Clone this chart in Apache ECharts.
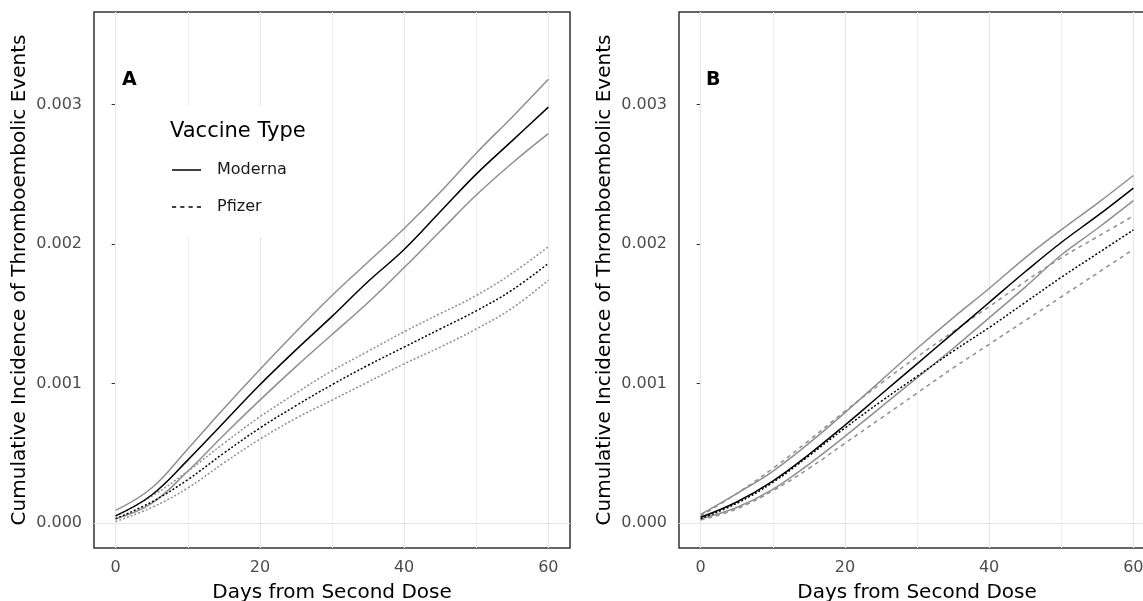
<!DOCTYPE html>
<html>
<head>
<meta charset="utf-8">
<script src="https://cdn.jsdelivr.net/npm/echarts@6/dist/echarts.min.js"></script>
<style>
  html, body { margin: 0; padding: 0; background: #fff; }
  #chart { width: 1143px; height: 601px; }
</style>
</head>
<body>
<div id="chart"></div>
<script>
// days from second dose
const days = [0, 5, 10, 15, 20, 25, 30, 35, 40, 45, 50, 55, 60];

// panel A
const modernaA   = [0.00005, 0.00020, 0.00045, 0.00072, 0.00099, 0.00124, 0.00148, 0.00173, 0.00196, 0.00223, 0.00250, 0.00274, 0.00298];
const modernaAHi = [0.00009, 0.00025, 0.00053, 0.00082, 0.00110, 0.00137, 0.00163, 0.00187, 0.00211, 0.00237, 0.00265, 0.00291, 0.00318];
const modernaALo = [0.00003, 0.00014, 0.00037, 0.00063, 0.00088, 0.00112, 0.00135, 0.00158, 0.00183, 0.00209, 0.00235, 0.00258, 0.00279];
const pfizerA    = [0.00003, 0.00015, 0.00031, 0.00050, 0.00068, 0.00084, 0.00099, 0.00113, 0.00126, 0.00139, 0.00152, 0.00167, 0.00186];
const pfizerAHi  = [0.00005, 0.00019, 0.00037, 0.00057, 0.00076, 0.00093, 0.00109, 0.00123, 0.00137, 0.00150, 0.00163, 0.00179, 0.00198];
const pfizerALo  = [0.00001, 0.00011, 0.00025, 0.00043, 0.00060, 0.00075, 0.00088, 0.00101, 0.00114, 0.00126, 0.00139, 0.00154, 0.00174];

// panel B
const modernaB   = [0.00004, 0.00015, 0.00030, 0.00049, 0.00070, 0.00092, 0.00114, 0.00136, 0.00158, 0.00180, 0.00201, 0.00220, 0.00240];
const modernaBHi = [0.00006, 0.00021, 0.00037, 0.00057, 0.00079, 0.00102, 0.00125, 0.00147, 0.00168, 0.00190, 0.00210, 0.00229, 0.00249];
const modernaBLo = [0.00003, 0.00011, 0.00024, 0.00042, 0.00062, 0.00083, 0.00104, 0.00125, 0.00147, 0.00169, 0.00192, 0.00211, 0.00231];
const pfizerB    = [0.00003, 0.00014, 0.00029, 0.00048, 0.00068, 0.00087, 0.00105, 0.00123, 0.00140, 0.00158, 0.00176, 0.00193, 0.00210];
const pfizerBHi  = [0.00005, 0.00021, 0.00039, 0.00059, 0.00080, 0.00100, 0.00119, 0.00137, 0.00155, 0.00173, 0.00190, 0.00205, 0.00220];
const pfizerBLo  = [0.00002, 0.00010, 0.00023, 0.00039, 0.00057, 0.00075, 0.00093, 0.00111, 0.00128, 0.00145, 0.00162, 0.00179, 0.00196];

// axis breaks
const xMajor = [0, 20, 40, 60];
const xMinor = [10, 30, 50];
const yMajor = [0, 0.001, 0.002, 0.003];
const yMinor = [0.0005, 0.0015, 0.0025, 0.0035];

const FONT = 'DejaVu Sans';
const GREY = '#8f8f8f';

function pairs(arr) {
  return days.map((d, i) => [d, arr[i]]);
}

function curve(name, idx, arr, color, type) {
  return {
    name: name,
    type: 'line',
    xAxisIndex: idx,
    yAxisIndex: idx,
    data: pairs(arr),
    symbol: 'none',
    smooth: 0.4,
    silent: true,
    z: 3,
    lineStyle: { color: color, width: 1.5, type: type },
    itemStyle: { color: color }
  };
}

// background grid lines (ggplot style), kept under curves and legend
function gridLines(idx) {
  const major = { color: '#e6e6e6', width: 1.2, type: 'solid' };
  const minor = { color: '#eeeeee', width: 1, type: 'solid' };
  return {
    type: 'line',
    xAxisIndex: idx,
    yAxisIndex: idx,
    data: [],
    silent: true,
    z: 1,
    markLine: {
      z: 1,
      silent: true,
      symbol: 'none',
      animation: false,
      label: { show: false },
      emphasis: { disabled: true },
      data: [].concat(
        xMinor.map(v => ({ xAxis: v, lineStyle: minor })),
        yMinor.map(v => ({ yAxis: v, lineStyle: minor })),
        xMajor.map(v => ({ xAxis: v, lineStyle: major })),
        yMajor.map(v => ({ yAxis: v, lineStyle: major }))
      )
    }
  };
}

function xAxisCfg(idx) {
  return {
    type: 'value',
    gridIndex: idx,
    min: -3,
    max: 63,
    splitLine: { show: false },
    axisLine: { show: false },
    axisTick: { show: true, length: 4, customValues: xMajor, lineStyle: { color: '#333' } },
    axisLabel: { customValues: xMajor, color: '#4d4d4d', fontFamily: FONT, fontSize: 16, margin: 12 },
    name: 'Days from Second Dose',
    nameLocation: 'middle',
    nameGap: 35,
    nameTextStyle: { fontFamily: FONT, fontSize: 20, color: '#000' }
  };
}

function yAxisCfg(idx) {
  return {
    type: 'value',
    gridIndex: idx,
    min: -0.00018,
    max: 0.003662,
    splitLine: { show: false },
    axisLine: { show: false },
    axisTick: { show: true, length: 4, customValues: yMajor, lineStyle: { color: '#333' } },
    axisLabel: {
      customValues: yMajor,
      color: '#4d4d4d',
      fontFamily: FONT,
      fontSize: 16,
      margin: 12,
      formatter: v => v.toFixed(3)
    },
    name: 'Cumulative Incidence of Thromboembolic Events',
    nameLocation: 'middle',
    nameRotate: 90,
    nameGap: 64,
    nameTextStyle: { fontFamily: FONT, fontSize: 20, color: '#000' }
  };
}

const chart = echarts.init(document.getElementById('chart'));

const option = {
  animation: false,
  backgroundColor: '#fff',
  title: [
    { text: 'A', left: 122, top: 71, padding: 0,
      textStyle: { fontFamily: FONT, fontWeight: 'bold', fontSize: 19, color: '#000' } },
    { text: 'B', left: 706, top: 71, padding: 0,
      textStyle: { fontFamily: FONT, fontWeight: 'bold', fontSize: 19, color: '#000' } },
    { text: 'Vaccine Type', left: 170, top: 121, padding: 0,
      textStyle: { fontFamily: FONT, fontWeight: 'normal', fontSize: 21, color: '#000' } }
  ],
  legend: {
    left: 157,
    top: 106,
    orient: 'vertical',
    selectedMode: false,
    backgroundColor: '#fff',
    padding: [56, 30, 22, 15],
    itemWidth: 29,
    itemHeight: 1.5,
    itemGap: 21,
    symbolKeepAspect: false,
    itemStyle: { color: '#000', borderWidth: 0, opacity: 1 },
    textStyle: { fontFamily: FONT, fontSize: 16, color: '#1a1a1a', padding: [0, 0, 0, 11] },
    data: [
      { name: 'Moderna', icon: 'path://M0,0h28v1h-28z' },
      { name: 'Pfizer', icon: 'path://M0,0h4v1h-4zM8,0h4v1h-4zM16,0h4v1h-4zM24,0h4v1h-4z' }
    ]
  },
  grid: [
    { left: 94, top: 12, width: 476, height: 536, outerBoundsMode: 'none', show: true,
      borderColor: '#333', borderWidth: 1.5, backgroundColor: 'transparent' },
    { left: 679, top: 12, width: 476, height: 536, outerBoundsMode: 'none', show: true,
      borderColor: '#333', borderWidth: 1.5, backgroundColor: 'transparent' }
  ],
  xAxis: [xAxisCfg(0), xAxisCfg(1)],
  yAxis: [yAxisCfg(0), yAxisCfg(1)],
  series: [
    gridLines(0),
    gridLines(1),
    // panel A
    curve('Moderna upper', 0, modernaAHi, GREY, 'solid'),
    curve('Moderna lower', 0, modernaALo, GREY, 'solid'),
    curve('Pfizer upper', 0, pfizerAHi, GREY, [2, 2]),
    curve('Pfizer lower', 0, pfizerALo, GREY, [2, 2]),
    curve('Moderna', 0, modernaA, '#000', 'solid'),
    curve('Pfizer', 0, pfizerA, '#000', [2, 2]),
    // panel B
    curve('Moderna B upper', 1, modernaBHi, GREY, 'solid'),
    curve('Moderna B lower', 1, modernaBLo, GREY, 'solid'),
    curve('Pfizer B upper', 1, pfizerBHi, GREY, [4, 4]),
    curve('Pfizer B lower', 1, pfizerBLo, GREY, [4, 4]),
    curve('Moderna B', 1, modernaB, '#000', 'solid'),
    curve('Pfizer B', 1, pfizerB, '#000', [2, 2])
  ]
};

chart.setOption(option);
</script>
</body>
</html>
